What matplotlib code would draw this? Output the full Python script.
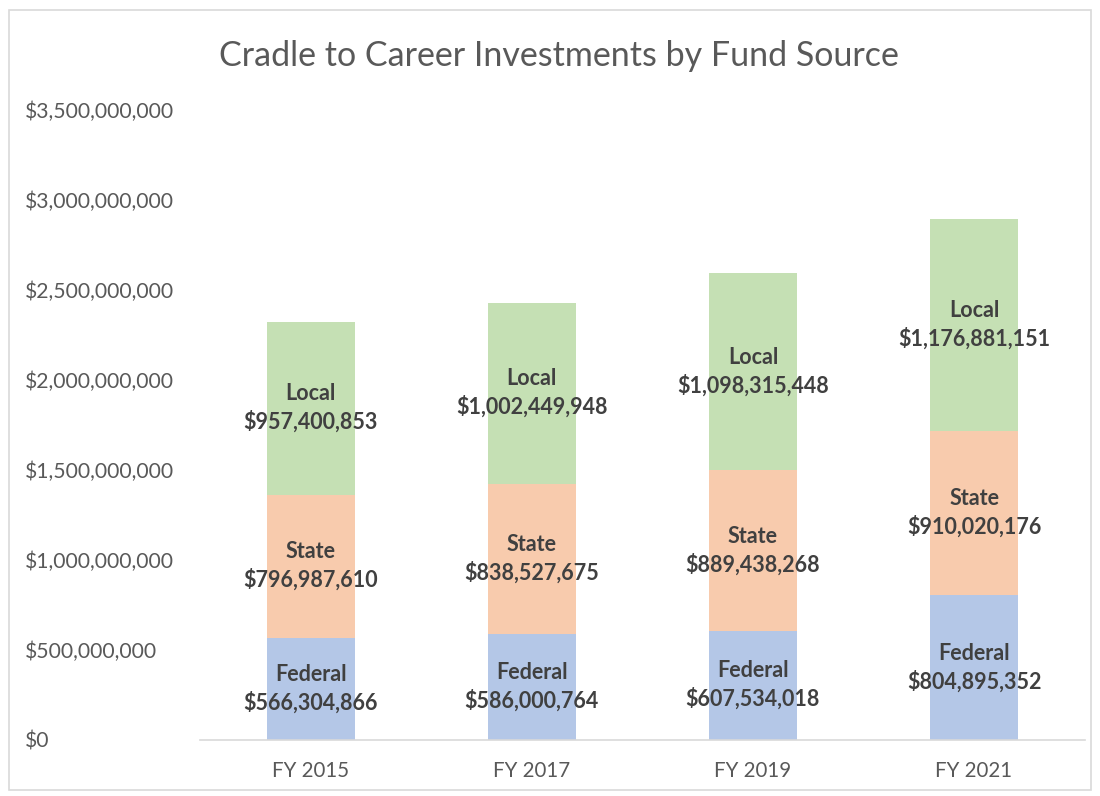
import matplotlib.pyplot as plt
import numpy as np
from matplotlib.ticker import FuncFormatter
from matplotlib.patches import Rectangle

years = ["FY 2015", "FY 2017", "FY 2019", "FY 2021"]
federal = [566304866, 586000764, 607534018, 804895352]
state = [796987610, 838527675, 889438268, 910020176]
local = [957400853, 1002449948, 1098315448, 1176881151]

series = [("Federal", federal, "#B4C7E7"),
          ("State", state, "#F8CBAD"),
          ("Local", local, "#C5E0B4")]

plt.rcParams['font.family'] = ['Lato', 'DejaVu Sans']

fig = plt.figure(figsize=(11, 7.96), dpi=100)
ax = fig.add_axes([0.182, 0.0704, 0.804, 0.7916])

# chart frame
fig.patches.append(Rectangle((0.008, 0.008), 0.984, 0.98, transform=fig.transFigure,
                             fill=False, edgecolor="#D9D9D9", linewidth=1.2))

x = np.arange(len(years))
bottom = np.zeros(len(years))
for name, vals, color in series:
    vals = np.array(vals, dtype=float)
    ax.bar(x, vals, width=0.4, bottom=bottom, color=color, zorder=2)
    for xi, b, v in zip(x, bottom, vals):
        ax.text(xi, b + v / 2, f"{name}\n${v:,.0f}", ha="center", va="center",
                fontsize=15.5, fontweight="bold", color="#404040", linespacing=1.35, zorder=3)
    bottom += vals

ax.set_xlim(-0.5, 3.5)
ax.set_ylim(0, 3.5e9)
ax.set_yticks(np.arange(0, 3.5e9 + 1, 5e8))
ax.yaxis.set_major_formatter(FuncFormatter(lambda v, p: f"${v:,.0f}"))
ax.set_xticks(x)
ax.set_xticklabels(years)
ax.tick_params(axis="both", length=0, colors="#595959")
ax.tick_params(axis="x", pad=15, labelsize=14.8)
ax.tick_params(axis="y", pad=126, labelsize=15.2)  # points: left edge of labels at ~25px
for lbl in ax.get_yticklabels():
    lbl.set_horizontalalignment("left")

for s in ["top", "right", "left"]:
    ax.spines[s].set_visible(False)
ax.spines["bottom"].set_color("#D9D9D9")
ax.spines["bottom"].set_linewidth(1.2)

fig.text(0.508, 0.93, "Cradle to Career Investments by Fund Source",
         ha="center", va="center", fontsize=24.5, color="#595959")

fig.savefig("out.png", dpi=100)
